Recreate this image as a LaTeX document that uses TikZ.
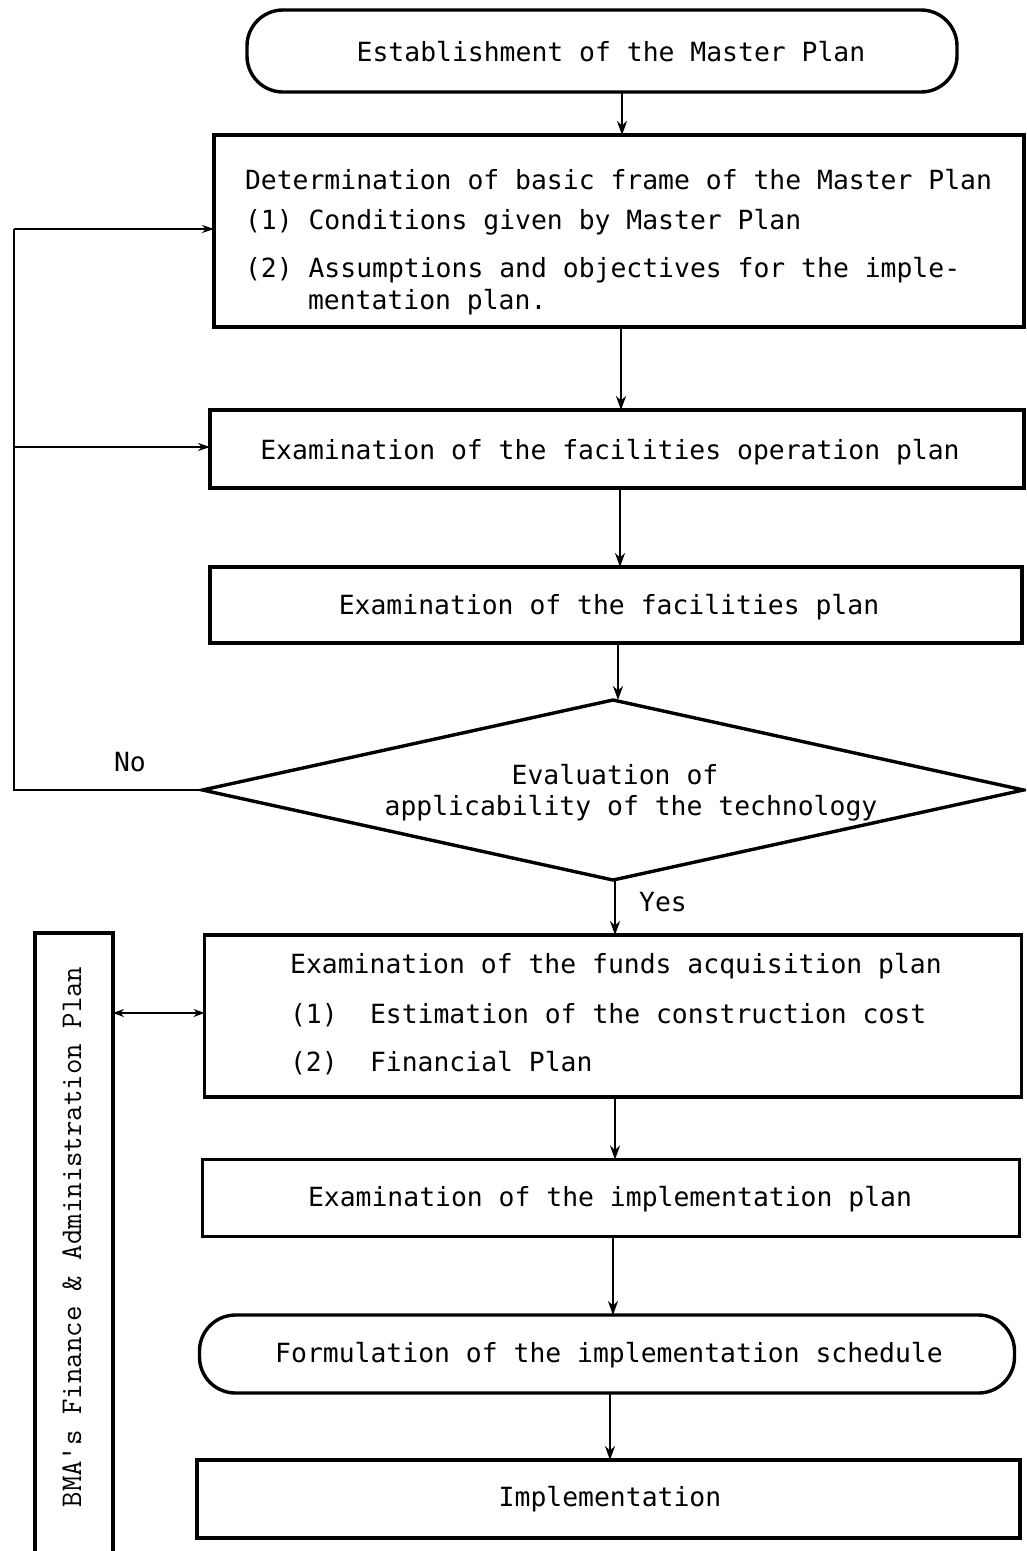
\documentclass[tikz,border=0pt]{standalone}
\usepackage{fontspec}
\newfontfamily\mainf{DejaVu Sans Mono}
\usetikzlibrary{shapes.geometric,arrows.meta}
\begin{document}
\begin{tikzpicture}[x=1pt,y=-1pt,
  every node/.style={inner sep=0pt,outer sep=0pt},
  txt/.style={font=\mainf\fontsize{26.4}{30}\selectfont},
  box/.style={draw,line width=3.4pt,rectangle},
  term/.style={draw,line width=3.4pt,rectangle,rounded corners=36pt},
  flow/.style={draw,line width=2.6pt,-{Stealth[length=14pt,width=10pt]}},
  fb/.style={draw,line width=2pt},
  fbarrow/.style={draw,line width=2pt,-{Stealth[length=12pt,width=8pt]}}]
\clip (0,0) rectangle (1026,1551);
\fill[white] (0,0) rectangle (1026,1551);

% nodes
\node[term,minimum width=710pt,minimum height=82pt] (t1) at (602,51) {};
\node[txt] (t1t) at (611,52) {Establishment of the Master Plan};

\node[box,minimum width=810pt,minimum height=192pt] (b1) at (619,231) {};
\node[txt,anchor=base west] (b1a) at (245,189) {Determination of basic frame of the Master Plan};
\node[txt,anchor=base west] (b1b) at (245,229) {(1) Conditions given by Master Plan};
\node[txt,anchor=base west] (b1c) at (245,277) {(2) Assumptions and objectives for the imple-};
\node[txt,anchor=base west] (b1d) at (308,309) {mentation plan.};

\node[box,minimum width=814pt,minimum height=78pt] (b2) at (617,449) {};
\node[txt] (b2t) at (610,452) {Examination of the facilities operation plan};

\node[box,minimum width=812pt,minimum height=76pt] (b3) at (616,605) {};
\node[txt] (b3t) at (609,607) {Examination of the facilities plan};

\node[diamond,draw,line width=3.4pt,minimum width=821pt,minimum height=180pt,aspect=4.56] (dia) at (613,790) {};
\node[txt] (dt1) at (615,775) {Evaluation of};
\node[txt] (dt2) at (631,808) {applicability of the technology};
\node[txt] (no) at (130,762) {No};
\node[txt] (yes) at (663,902) {Yes};

\node[box,minimum width=817pt,minimum height=162pt] (b4) at (613,1016) {};
\node[txt] (b4t) at (616,966) {Examination of the funds acquisition plan};
\node[txt,anchor=base west] (b4a) at (290,1023) {(1)};
\node[txt,anchor=base west] (b4b) at (370,1023) {Estimation of the construction cost};
\node[txt,anchor=base west] (b4c) at (290,1071) {(2)};
\node[txt,anchor=base west] (b4d) at (370,1071) {Financial Plan};

\node[box,minimum width=817pt,minimum height=77pt] (b5) at (611,1198) {};
\node[txt] (b5t) at (610,1199) {Examination of the implementation plan};

\node[term,minimum width=815pt,minimum height=78pt] (t2) at (607,1354) {};
\node[txt] (t2t) at (609,1355) {Formulation of the implementation schedule};

\node[box,minimum width=823pt,minimum height=78pt] (b6) at (608.5,1499) {};
\node[txt] (b6t) at (610,1499) {Implementation};

\node[box,line width=4pt,minimum width=78pt,minimum height=660pt] (bma) at (74,1263) {};
\node[font=\ttfamily\fontsize{30}{34}\selectfont,rotate=90] (bmat) at (72,1237) {BMA's Finance \& Administration Plan};

% main flow
\draw[flow] (t1.south -| 622,0) -- (b1.north -| 622,0);
\draw[flow] (b1.south -| 621,0) -- (b2.north -| 621,0);
\draw[flow] (b2.south -| 620,0) -- (b3.north -| 620,0);
\draw[flow] (b3.south -| 618,0) -- (dia.north -| 618,0);
\draw[flow] (dia.south -| 615,0) -- (b4.north -| 615,0);
\draw[flow] (b4.south -| 615,0) -- (b5.north -| 615,0);
\draw[flow] (b5.south -| 613,0) -- (t2.north -| 613,0);
\draw[flow] (t2.south -| 610,0) -- (b6.north -| 610,0);

% feedback
\coordinate (fbL) at (14,790);
\coordinate (fbT) at (14,229);
\coordinate (fbM) at (14,447);
\draw[fb] (dia.west) -- (fbL) -- (fbT);
\draw[fbarrow] (fbT) -- (fbT -| b1.west);
\draw[fbarrow] (fbM) -- (fbM -| b2.west);

% BMA link
\draw[line width=1.6pt,{Stealth[length=11pt,width=8pt]}-{Stealth[length=11pt,width=8pt]}] (bma.east |- 0,1013) -- (b4.west |- 0,1013);
\end{tikzpicture}
\end{document}
